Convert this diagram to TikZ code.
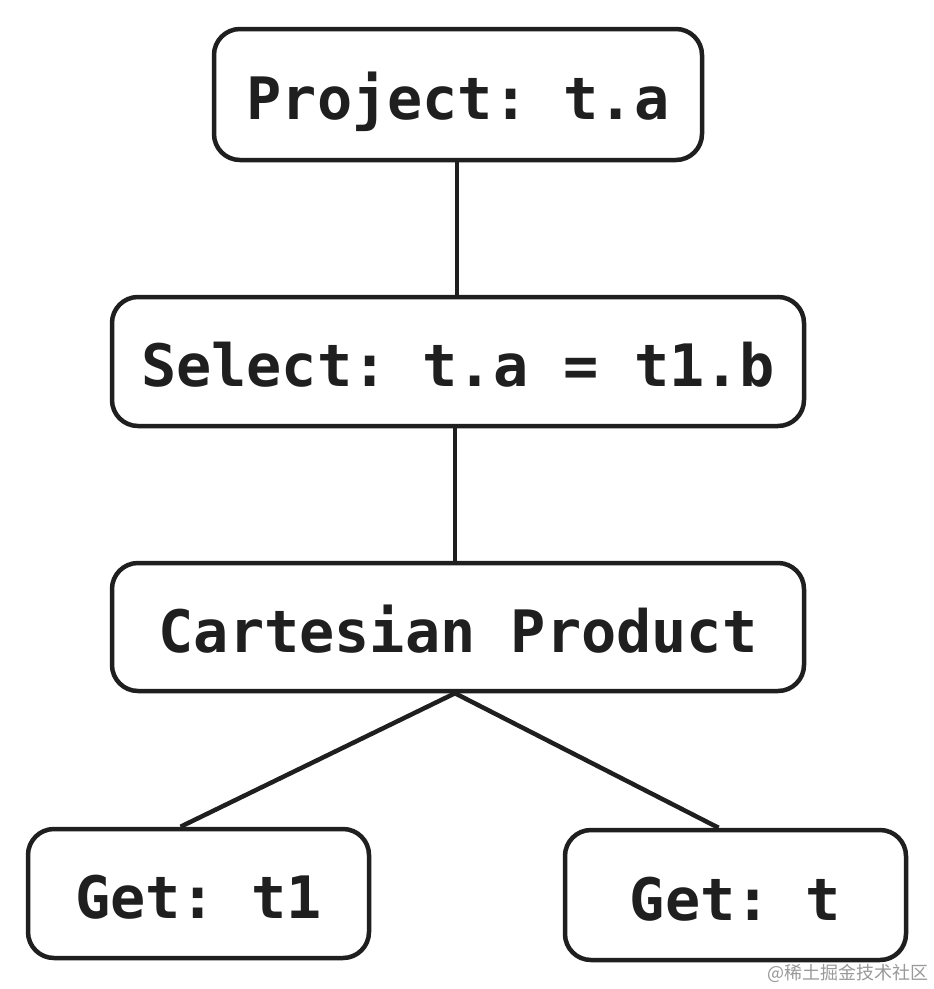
\documentclass[tikz,border=0pt]{standalone}
\usepackage{fontspec}
\setmonofont{DejaVu Sans Mono}
\newfontfamily\cjk{Noto Sans CJK SC}
\begin{document}
\begin{tikzpicture}[x=1pt,y=-1pt,
  opbox/.style={draw=black!88, line width=4.5pt, rounded corners=26pt, inner sep=0pt,
    text height=50pt, text depth=0pt,
    font=\ttfamily\bfseries\fontsize{58.5}{60}\selectfont, text=black!88},
  edge/.style={draw=black!88, line width=4.5pt}]
\useasboundingbox (0,0) rectangle (934,989);
\fill[white] (0,0) rectangle (934,989);
\node[opbox, minimum width=488pt, minimum height=131pt] (proj) at (458,94.5) {Project: t.a};
\node[opbox, minimum width=692pt, minimum height=129pt] (sel) at (458,361.5) {Select: t.a = t1.b};
\node[opbox, minimum width=692pt, minimum height=128pt] (cart) at (458,627) {Cartesian Product};
\node[opbox, minimum width=341pt, minimum height=129pt] (get1) at (198.5,893.5) {Get: t1};
\node[opbox, minimum width=341pt, minimum height=130pt] (get) at (735.5,895) {Get: t};
\draw[edge] ([xshift=-1pt]proj.south) -- ([xshift=-1pt]sel.north);
\draw[edge] ([xshift=-3pt]sel.south) -- ([xshift=-3pt]cart.south |- cart.north);
\draw[edge] ([xshift=-3pt]cart.south) -- ([xshift=-18pt]get1.north);
\draw[edge] ([xshift=-3pt]cart.south) -- ([xshift=-17pt]get.north);
\node[font=\cjk\fontsize{18}{20}\selectfont, text=black!40, anchor=east, inner sep=0pt] (wm) at (929,973) {@稀土掘金技术社区};
\end{tikzpicture}
\end{document}
